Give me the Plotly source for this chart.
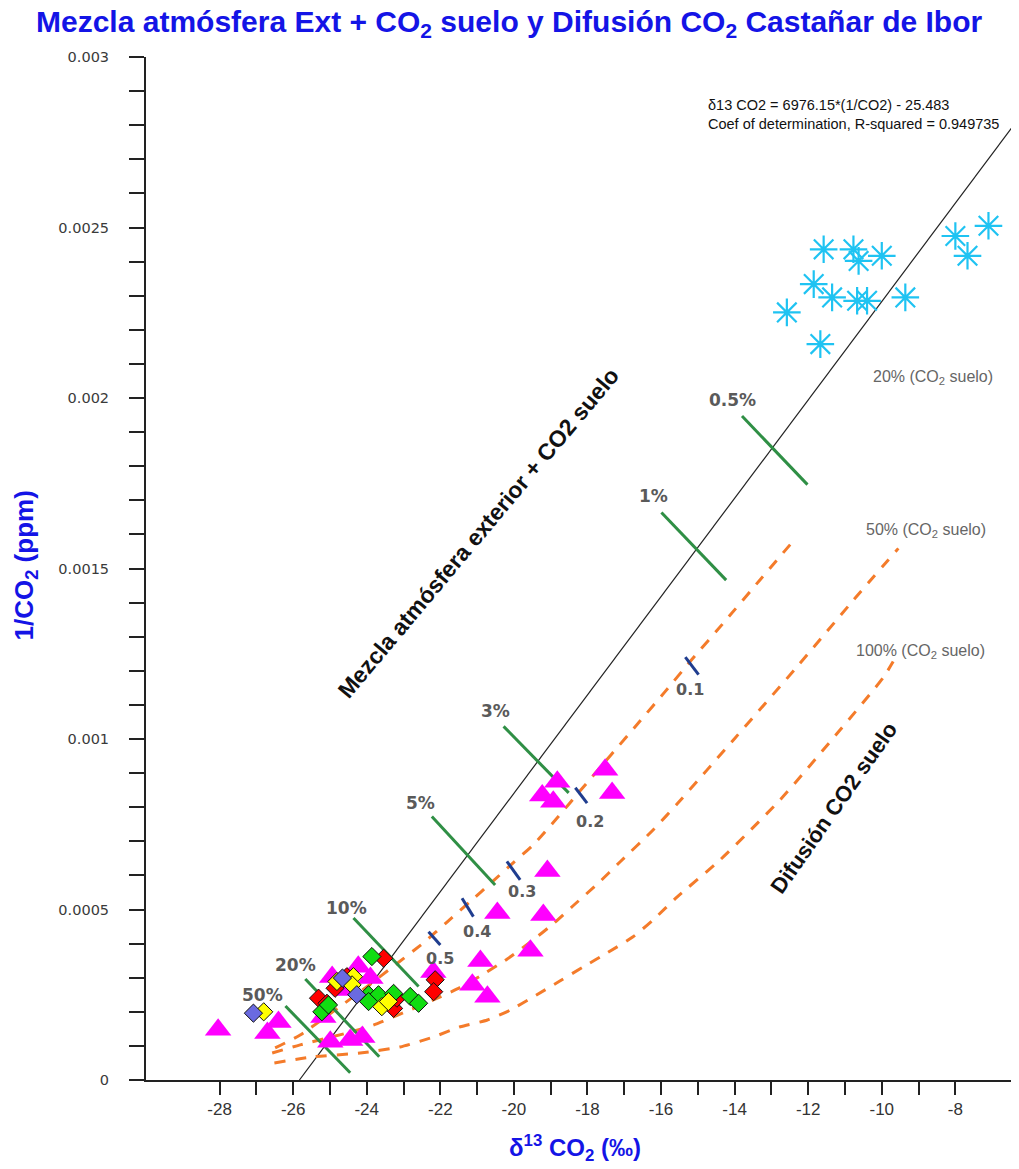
import plotly.graph_objects as go

# ---------------- data ----------------
# regression line (mixing line) endpoints as drawn
reg_x = [-25.83, -6.2]
reg_y = [0.0, 0.002831]

# mixing percentage markers (green segments)
pct_labels = ["0.5%", "1%", "3%", "5%", "10%", "20%", "50%"]
pct_x0 = [-13.80, -15.99, -20.28, -22.23, -24.36, -25.67, -26.21]
pct_y0 = [0.001947, 0.001664, 0.001037, 0.000773, 0.000475, 0.000296, 0.000217]
pct_x1 = [-12.02, -14.23, -18.51, -20.51, -22.59, -23.66, -24.45]
pct_y1 = [0.001746, 0.001466, 0.000842, 0.000572, 0.000274, 0.0000684, 0.0000214]
pct_lab_x = [-14.05, -16.20, -20.51, -22.54, -24.54, -25.94, -26.82]
pct_lab_y = [0.001994, 0.001712, 0.001081, 0.000812, 0.000504, 0.000338, 0.000250]

# fraction markers on diffusion curve (blue ticks)
frac_labels = ["0.1", "0.2", "0.3", "0.4", "0.5"]
frac_x0 = [-15.34, -18.33, -20.19, -21.41, -22.32]
frac_y0 = [0.001240, 0.000857, 0.000641, 0.000533, 0.000435]
frac_x1 = [-14.98, -18.01, -19.83, -21.10, -22.00]
frac_y1 = [0.001189, 0.000812, 0.000587, 0.000479, 0.000396]
frac_lab_x = [-15.21, -17.92, -19.78, -21.00, -22.00]
frac_lab_y = [0.001145, 0.000758, 0.000553, 0.000435, 0.000357]

# diffusion curves (20%, 50%, 100% CO2 suelo)
curveA_x = [-26.49, -25.81, -24.86, -24.04, -23.22, -22.46, -21.81, -21.19, -20.56, -20.02,
            -19.47, -18.82, -18.20, -17.38, -16.56, -15.89, -15.21, -14.25, -13.30, -12.49]
curveA_y = [0.000094, 0.000132, 0.000205, 0.000270, 0.000338, 0.000402, 0.000464, 0.000523,
            0.000584, 0.000637, 0.000690, 0.000769, 0.000848, 0.000951, 0.001054, 0.001139,
            0.001227, 0.001347, 0.001468, 0.001570]
curveB_x = [-26.57, -25.81, -24.53, -23.82, -22.19, -21.54, -20.91, -20.18, -19.55, -18.93,
            -18.39, -17.73, -17.11, -16.21, -15.56, -13.98, -12.35, -10.78, -9.55]
curveB_y = [0.000079, 0.000103, 0.000138, 0.000161, 0.000235, 0.000267, 0.000305, 0.000355,
            0.000405, 0.000458, 0.000511, 0.000575, 0.000640, 0.000734, 0.000810, 0.001004,
            0.001206, 0.001406, 0.001559]
curveC_x = [-26.51, -25.45, -24.18, -23.09, -22.19, -21.46, -20.72, -20.10, -19.47, -18.74,
            -18.11, -17.46, -16.76, -16.21, -15.56, -14.39, -12.76, -11.13, -9.96, -9.69]
curveC_y = [0.000050, 0.000068, 0.000079, 0.000097, 0.000126, 0.000156, 0.000176, 0.000205,
            0.000244, 0.000291, 0.000332, 0.000373, 0.000420, 0.000470, 0.000537, 0.000646,
            0.000822, 0.001027, 0.001180, 0.001227]
curve_labels = ["20% (CO<sub>2</sub> suelo)", "50% (CO<sub>2</sub> suelo)", "100% (CO<sub>2</sub> suelo)"]
curve_lab_x = [-8.60, -8.79, -8.95]
curve_lab_y = [0.002061, 0.001612, 0.001256]

# samples
tri_x = [-17.52, -17.33, -18.82, -19.23, -18.93, -19.09, -20.45, -19.20, -19.55, -20.91,
         -21.13, -20.72, -22.19, -28.04, -26.40, -26.70, -25.18, -24.99, -24.45, -24.12,
         -24.94, -24.23, -23.90, -24.53]
tri_y = [0.000910, 0.000842, 0.000875, 0.000834, 0.000816, 0.000613, 0.000490, 0.000484,
         0.000379, 0.000349, 0.000279, 0.000244, 0.000317, 0.000147, 0.000170, 0.000138,
         0.000185, 0.000112, 0.000117, 0.000126, 0.000302, 0.000332, 0.000299, 0.000264]

star_x = [-11.58, -10.77, -10.63, -10.00, -11.85, -11.35, -10.67, -10.40, -9.36, -12.58,
          -11.67, -8.00, -7.10, -7.67]
star_y = [0.002436, 0.002436, 0.002402, 0.002417, 0.002334, 0.002295, 0.002285, 0.002285,
          0.002295, 0.002251, 0.002158, 0.002475, 0.002505, 0.002417]

red_x = [-23.54, -25.31, -24.86, -23.27, -23.18, -22.14, -22.18, -25.08, -24.54]
red_y = [0.000357, 0.000240, 0.000269, 0.000210, 0.000240, 0.000294, 0.000259, 0.000225, 0.000303]
green_x = [-23.86, -25.22, -25.04, -23.95, -23.68, -23.95, -23.27, -22.82, -22.59]
green_y = [0.000362, 0.000200, 0.000220, 0.000250, 0.000250, 0.000230, 0.000254, 0.000245, 0.000225]
yellow_x = [-26.80, -24.81, -24.36, -24.40, -23.59, -23.41]
yellow_y = [0.000200, 0.000289, 0.000303, 0.000279, 0.000215, 0.000230]
blue_x = [-27.08, -24.27, -24.66]
blue_y = [0.000196, 0.000250, 0.000299]

x_tick_vals = list(range(-28, -7))
x_tick_text = [str(v) if v % 2 == 0 else "" for v in x_tick_vals]
y_tick_vals = [i * 0.0001 for i in range(31)]
y_tick_text = {0: "0", 5: "0.0005", 10: "0.001", 15: "0.0015", 20: "0.002", 25: "0.0025", 30: "0.003"}

title_text = "<b>Mezcla atmósfera Ext + CO<sub>2</sub> suelo y Difusión CO<sub>2</sub> Castañar de Ibor</b>"
eq_text = "δ13 CO2 = 6976.15*(1/CO2) - 25.483<br>Coef of determination, R-squared = 0.949735"

# ---------------- figure ----------------
ORANGE = "#f47b2a"
GREEN = "#2f8f45"
NAVY = "#1f3d8f"
GRAY = "#5a5a5a"
BLUE = "#1414e6"

W, H = 1011, 1161
fig = go.Figure()

fig.add_trace(go.Scatter(x=reg_x, y=reg_y, mode="lines",
                         line=dict(color="#222222", width=1.2), hoverinfo="skip"))
for cx, cy in [(curveA_x, curveA_y), (curveB_x, curveB_y), (curveC_x, curveC_y)]:
    fig.add_trace(go.Scatter(x=cx, y=cy, mode="lines",
                             line=dict(color=ORANGE, width=3, dash="11px,10px", shape="spline", smoothing=0.6),
                             hoverinfo="skip"))

for i in range(len(pct_labels)):
    fig.add_trace(go.Scatter(x=[pct_x0[i], pct_x1[i]], y=[pct_y0[i], pct_y1[i]], mode="lines",
                             line=dict(color=GREEN, width=3), hoverinfo="skip"))
for i in range(len(frac_labels)):
    fig.add_trace(go.Scatter(x=[frac_x0[i], frac_x1[i]], y=[frac_y0[i], frac_y1[i]], mode="lines",
                             line=dict(color=NAVY, width=3), hoverinfo="skip"))

fig.add_trace(go.Scatter(x=tri_x, y=tri_y, mode="markers",
                         marker=dict(symbol="triangle-up", size=23, color="#ff00ff", line=dict(width=0))))
for xs, ys, col in [(red_x, red_y, "#ff0000"), (green_x, green_y, "#11dd11"),
                    (yellow_x, yellow_y, "#ffff00"), (blue_x, blue_y, "#6a6ae0")]:
    fig.add_trace(go.Scatter(x=xs, y=ys, mode="markers",
                             marker=dict(symbol="diamond", size=14, color=col,
                                         line=dict(color="#111111", width=1))))
fig.add_trace(go.Scatter(x=star_x, y=star_y, mode="markers",
                         marker=dict(symbol="asterisk-open", size=23, color="#1fc3f2",
                                     line=dict(color="#1fc3f2", width=2.2))))

ann = []
for i, t in enumerate(pct_labels):
    ann.append(dict(x=pct_lab_x[i], y=pct_lab_y[i], text="<b>" + t + "</b>", showarrow=False,
                    font=dict(family="DejaVu Sans", size=17, color=GRAY)))
for i, t in enumerate(frac_labels):
    ann.append(dict(x=frac_lab_x[i], y=frac_lab_y[i], text="<b>" + t + "</b>", showarrow=False,
                    font=dict(family="DejaVu Sans", size=16, color=GRAY)))
for i, t in enumerate(curve_labels):
    ann.append(dict(x=curve_lab_x[i], y=curve_lab_y[i], text=t, showarrow=False,
                    font=dict(family="Liberation Sans", size=16, color="#666666")))
ann.append(dict(x=-14.77, y=0.002889, text=eq_text, showarrow=False, xanchor="left", yanchor="top",
                align="left", font=dict(family="Liberation Sans", size=14.5, color="#111111")))
ann.append(dict(x=-20.97, y=0.001605, text="<b>Mezcla atmósfera exterior + CO2 suelo</b>",
                showarrow=False, textangle=-50,
                font=dict(family="Liberation Sans", size=23, color="#111111")))
ann.append(dict(x=-11.3, y=0.00080, text="<b>Difusión CO2 suelo</b>",
                showarrow=False, textangle=-55,
                font=dict(family="Liberation Sans", size=22, color="#111111")))
# chart title
ann.append(dict(xref="paper", yref="paper", x=(501 - 138) / 873, y=1 + (49 - 15) / 1023,
                xanchor="center", yanchor="middle", text=title_text, showarrow=False,
                font=dict(family="Liberation Sans", size=30, color=BLUE)))
# axis titles
ann.append(dict(xref="paper", yref="paper", x=-0.1386, y=0.503, xanchor="center", yanchor="middle",
                text="<b>1/CO<sub>2</sub> (ppm)</b>", showarrow=False, textangle=-90,
                font=dict(family="Liberation Sans", size=26, color=BLUE)))
ann.append(dict(xref="paper", yref="paper", x=0.491, y=-0.0665, xanchor="center", yanchor="middle",
                text="<b>δ<sup>13</sup> CO<sub>2</sub> (‰)</b>", showarrow=False,
                font=dict(family="Liberation Sans Narrow, Liberation Sans", size=24, color=BLUE)))

fig.update_layout(
    width=W, height=H,
    margin=dict(l=138, r=0, t=49, b=89),
    paper_bgcolor="white", plot_bgcolor="white",
    showlegend=False,
    annotations=ann,
)
fig.update_xaxes(range=[-30, -6.27], showgrid=False, zeroline=False,
                 showline=True, linecolor="#222222", linewidth=2,
                 ticks="outside", ticklen=13, tickwidth=2, tickcolor="#222222",
                 tickmode="array", tickvals=x_tick_vals, ticktext=x_tick_text,
                 tickfont=dict(family="Liberation Sans Narrow, Liberation Sans", size=17, color="#333333"))
fig.update_yaxes(range=[0, 0.003], showgrid=False, zeroline=False,
                 showline=True, linecolor="#222222", linewidth=2,
                 ticks="outside", ticklen=15, tickwidth=2, tickcolor="#222222",
                 tickmode="array", tickvals=y_tick_vals,
                 ticktext=[y_tick_text.get(i, "") for i in range(31)],
                 ticklabelstandoff=17,
                 tickfont=dict(family="DejaVu Sans", size=14.5, color="#3a3a3a"))

fig.write_html("out.html")
